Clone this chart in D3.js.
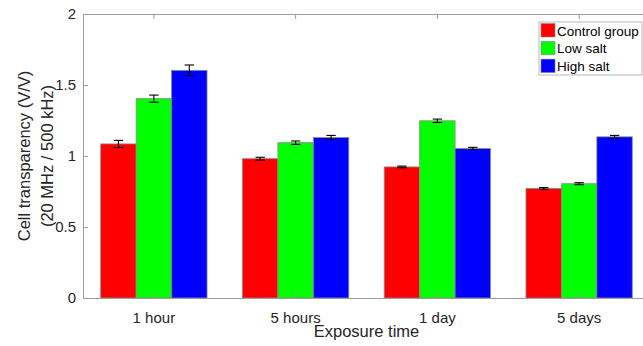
<!DOCTYPE html>
<html>
<head>
<meta charset="utf-8">
<script src="https://cdn.jsdelivr.net/npm/d3@7"></script>
<style>
  body { margin: 0; background: #fff; }
  svg { font-family: "Liberation Sans", Arial, sans-serif; }
</style>
</head>
<body>
<div id="chart"></div>
<script>
const w = 643;
const h = 346;

const categories = ["1 hour", "5 hours", "1 day", "5 days"];
const seriesNames = ["Control group", "Low salt", "High salt"];
const seriesColors = ["#ff0000", "#00ff00", "#0000ff"];
const controlValues = [1.085, 0.981, 0.923, 0.772];
const lowSaltValues = [1.404, 1.094, 1.248, 0.805];
const highSaltValues = [1.603, 1.130, 1.053, 1.135];
const controlErrors = [0.025, 0.010, 0.006, 0.006];
const lowSaltErrors = [0.025, 0.012, 0.012, 0.007];
const highSaltErrors = [0.038, 0.015, 0.008, 0.010];
const yTicks = [0, 0.5, 1, 1.5, 2];

const values = [controlValues, lowSaltValues, highSaltValues];
const errors = [controlErrors, lowSaltErrors, highSaltErrors];

// plot box (right edge falls just outside the window, like the original)
const plotLeft = 83, plotRight = 650, plotTop = 14, plotBottom = 298;
const axisColor = "#9c9c9c";
const textColor = "#262626";

const svg = d3.select("#chart").append("svg")
    .attr("width", w)
    .attr("height", h);

const xScale = d3.scaleBand()
    .domain(categories)
    .range([plotLeft, plotRight])
    .paddingInner(0.25)
    .paddingOuter(0.125);

const subScale = d3.scaleBand()
    .domain(seriesNames)
    .range([0, xScale.bandwidth()]);

const yScale = d3.scaleLinear()
    .domain([0, 2])
    .range([plotBottom, plotTop]);

// flatten into one row per bar
const bars = [];
categories.forEach((c, i) => {
    seriesNames.forEach((s, j) => {
        bars.push({cat: c, series: s, color: seriesColors[j], value: values[j][i], err: errors[j][i]});
    });
});

svg.append("g").selectAll("rect")
    .data(bars)
    .enter()
    .append("rect")
    .attr("x", d => xScale(d.cat) + subScale(d.series))
    .attr("y", d => yScale(d.value))
    .attr("width", subScale.bandwidth())
    .attr("height", d => plotBottom - yScale(d.value))
    .style("fill", d => d.color)
    .style("stroke", "#8a8a8a")
    .style("stroke-width", 0.8);

// error bars
const errG = svg.append("g").attr("stroke", "#000").attr("stroke-width", 1.1);
const capHalf = 4.7;
bars.forEach(d => {
    const cx = xScale(d.cat) + subScale(d.series) + subScale.bandwidth() / 2;
    const y1 = yScale(d.value + d.err);
    const y2 = yScale(d.value - d.err);
    errG.append("line").attr("x1", cx).attr("x2", cx).attr("y1", y1).attr("y2", y2);
    errG.append("line").attr("x1", cx - capHalf).attr("x2", cx + capHalf).attr("y1", y1).attr("y2", y1);
    errG.append("line").attr("x1", cx - capHalf).attr("x2", cx + capHalf).attr("y1", y2).attr("y2", y2);
});

// axes (ticks point inward, matlab style)
const xAxis = d3.axisBottom(xScale).tickSizeInner(-5).tickSizeOuter(0).tickPadding(14);
svg.append("g")
    .attr("transform", "translate(0," + plotBottom + ")")
    .call(xAxis);

const xTop = d3.axisTop(xScale).tickSizeInner(-5).tickSizeOuter(0).tickFormat("");
svg.append("g")
    .attr("transform", "translate(0," + plotTop + ")")
    .call(xTop);

const yAxis = d3.axisLeft(yScale).tickValues(yTicks).tickFormat(d => String(d))
    .tickSizeInner(-5).tickSizeOuter(0).tickPadding(7);
svg.append("g")
    .attr("transform", "translate(" + plotLeft + ",0)")
    .call(yAxis);

svg.selectAll(".domain").attr("stroke", axisColor);
svg.selectAll(".tick line").attr("stroke", axisColor);
svg.selectAll(".tick text")
    .attr("fill", textColor)
    .style("font-size", "15px")
    .style("font-family", "'Liberation Sans', Arial, sans-serif");

svg.append("line")
    .attr("x1", plotRight).attr("x2", plotRight).attr("y1", plotTop).attr("y2", plotBottom)
    .attr("stroke", axisColor);

// axis labels
svg.append("text")
    .attr("x", (plotLeft + plotRight) / 2)
    .attr("y", 337)
    .attr("text-anchor", "middle")
    .attr("fill", textColor)
    .style("font-size", "16.5px")
    .text("Exposure time");

const yLabel = svg.append("text")
    .attr("transform", "translate(30," + (plotTop + plotBottom) / 2 + ") rotate(-90)")
    .attr("text-anchor", "middle")
    .attr("fill", textColor)
    .style("font-size", "16.5px");
yLabel.append("tspan").attr("x", 0).attr("dy", 0).text("Cell transparency (V/V)");
yLabel.append("tspan").attr("x", 0).attr("dy", 23).text("(20 MHz / 500 kHz)");

// legend
const legend = svg.append("g").attr("transform", "translate(539,22)");
legend.append("rect")
    .attr("width", 103)
    .attr("height", 53)
    .style("fill", "#fff")
    .style("stroke", "#a8a8a8")
    .style("stroke-width", 0.8);

const items = legend.selectAll("g.item")
    .data(seriesNames)
    .enter()
    .append("g")
    .attr("class", "item")
    .attr("transform", (d, i) => "translate(2," + (1.5 + i * 17.8) + ")");

items.append("rect")
    .attr("width", 14)
    .attr("height", 13.5)
    .style("fill", (d, i) => seriesColors[i])
    .style("stroke", "#8a8a8a")
    .style("stroke-width", 0.6);

items.append("text")
    .attr("x", 16)
    .attr("y", 12)
    .attr("fill", "#000")
    .style("font-size", "13.5px")
    .text(d => d);
</script>
</body>
</html>
